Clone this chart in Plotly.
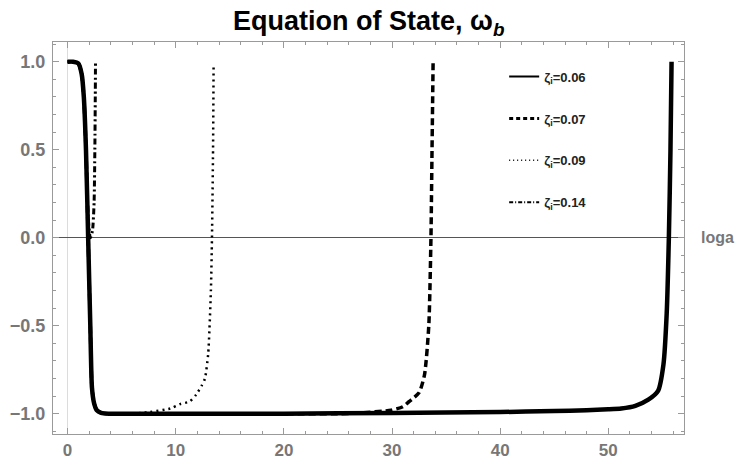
import plotly.graph_objects as go

# Shared early descent (all curves start at 1 and drop to -1 near loga ~ 2)
x_desc = [0.0, 0.5, 1.0, 1.3, 1.5, 1.7, 1.9, 2.1, 2.25, 2.45, 2.7, 3.1, 3.8]
y_desc = [1.0, 1.0, 0.99, 0.93, 0.8, 0.5, 0.0, -0.5, -0.85, -0.94, -0.98, -0.995, -1.0]

# zeta_i = 0.06 (solid)
x_006 = x_desc + [5, 10, 20, 30, 40, 45, 48, 50, 51.2, 52.5, 53.7, 54.6, 55.1, 55.4, 55.6, 55.75, 55.85]
y_006 = y_desc + [-1.0, -1.0, -1.0, -0.995, -0.99, -0.985, -0.98, -0.975, -0.97, -0.955, -0.92, -0.87, -0.72, -0.43, 0.0, 0.5, 1.0]

# zeta_i = 0.07 (dashed)
x_007 = x_desc + [5, 10, 20, 25, 27, 29.9, 31.0, 31.6, 32.5, 33.0, 33.4, 33.6, 33.7, 33.8]
y_007 = y_desc + [-1.0, -1.0, -1.0, -1.0, -0.995, -0.98, -0.96, -0.93, -0.88, -0.78, -0.5, 0.0, 0.5, 1.0]

# zeta_i = 0.09 (dotted)
x_009 = x_desc + [5, 6, 7.6, 9.5, 10.4, 11.3, 11.9, 12.4, 12.7, 13.0, 13.25, 13.35, 13.45, 13.5]
y_009 = y_desc + [-1.0, -1.0, -0.99, -0.97, -0.945, -0.93, -0.89, -0.84, -0.8, -0.66, -0.3, 0.0, 0.5, 0.98]

# zeta_i = 0.14 (dot-dashed)
x_014 = [0.0, 0.5, 1.0, 1.3, 1.5, 1.7, 1.9, 2.1, 2.3, 2.45, 2.52, 2.56, 2.58]
y_014 = [1.0, 1.0, 0.99, 0.93, 0.8, 0.5, 0.12, 0.0, 0.04, 0.2, 0.5, 0.8, 1.0]

names = ["ζ<sub>i</sub>=0.06", "ζ<sub>i</sub>=0.07", "ζ<sub>i</sub>=0.09", "ζ<sub>i</sub>=0.14"]

FONT = "Arial, Liberation Sans"

fig = go.Figure()
series = [
    (x_006, y_006, dict(color="black", width=4.5), dict(color="black", width=2)),
    (x_007, y_007, dict(color="black", width=3.5, dash="7px,4px"), dict(color="black", width=3, dash="4px,3px")),
    (x_009, y_009, dict(color="black", width=2.5, dash="2px,4px"), dict(color="black", width=1.5, dash="1px,3px")),
    (x_014, y_014, dict(color="black", width=3, dash="6px,3px,2px,3px"), dict(color="black", width=2, dash="4px,2px,1px,2px")),
]
groups = ["a", "b", "c", "d"]
for (xs, ys, ln, lg), nm, g in zip(series, names, groups):
    fig.add_trace(go.Scatter(x=xs, y=ys, mode="lines", name=nm, legendgroup=g, showlegend=False,
                             line=dict(shape="spline", smoothing=0.6, **ln)))
    fig.add_trace(go.Scatter(x=[None], y=[None], mode="lines", name=nm, legendgroup=g,
                             showlegend=True, line=lg))

axis_common = dict(
    showline=True, linecolor="#9a9a9a", linewidth=1.3, mirror="allticks",
    ticks="inside", ticklen=6, tickcolor="#9a9a9a", tickwidth=1,
    showgrid=False, automargin=False,
)

fig.update_xaxes(range=[-1.35, 57.0], tickvals=[0, 10, 20, 30, 40, 50],
                 zeroline=True, zerolinecolor="#dcdcdc", zerolinewidth=1,
                 ticklabelstandoff=0,
                 tickfont=dict(family=FONT, size=17, color="#777777", weight="bold"),
                 minor=dict(dtick=2, tick0=0, ticks="inside", ticklen=3, tickcolor="#9a9a9a"),
                 **axis_common)
fig.update_yaxes(range=[-1.115, 1.112], tickvals=[-1.0, -0.5, 0.0, 0.5, 1.0], tickformat=".1f",
                 zeroline=True, zerolinecolor="#555555", zerolinewidth=1.2,
                 ticklabelstandoff=3,
                 tickfont=dict(family=FONT, size=18, color="#777777", weight="bold"),
                 minor=dict(dtick=0.1, tick0=0, ticks="inside", ticklen=3, tickcolor="#9a9a9a"),
                 **axis_common)

fig.add_annotation(text="loga", xref="paper", yref="y", x=1.0, y=0.0, xanchor="left",
                   xshift=15, yanchor="middle", showarrow=False,
                   font=dict(family=FONT, size=16, color="#777777", weight="bold"))

fig.update_layout(
    width=742, height=462,
    margin=dict(l=53, r=58, t=42, b=28),
    paper_bgcolor="white", plot_bgcolor="white",
    title=dict(text="Equation of State, ω<sub><i>b</i></sub>", x=0.497, xanchor="center",
               y=0.955, yanchor="middle",
               font=dict(family=FONT, size=27, color="black", weight="bold")),
    showlegend=True,
    legend=dict(x=0.715, y=0.95, xanchor="left", yanchor="top", bgcolor="rgba(0,0,0,0)",
                tracegroupgap=22, itemwidth=30,
                font=dict(family=FONT, size=13, color="#222222", weight="bold")),
)

fig.write_html("out.html")
